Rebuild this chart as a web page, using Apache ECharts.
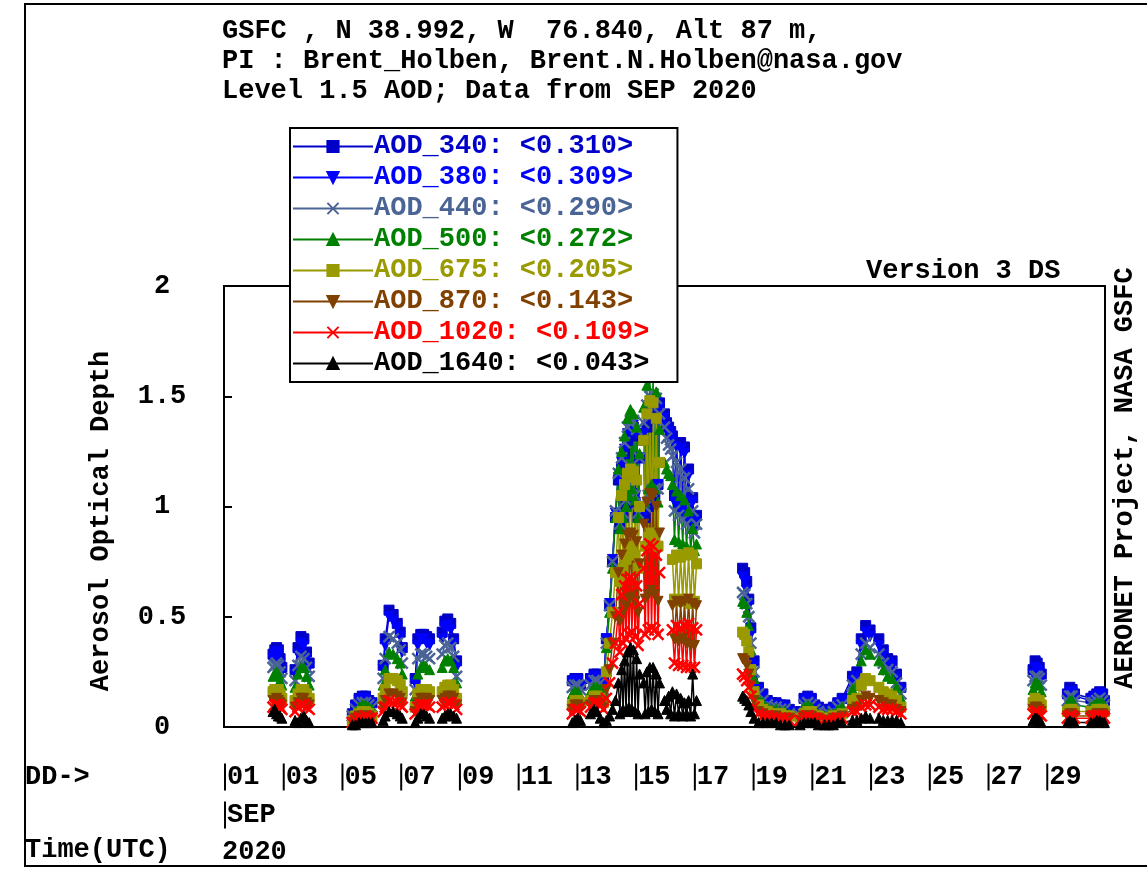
<!DOCTYPE html>
<html><head><meta charset="utf-8">
<script src="https://cdn.jsdelivr.net/npm/echarts/dist/echarts.min.js"></script>
<style>html,body{margin:0;padding:0;background:#fff}#c{width:1147px;height:869px}</style>
</head><body><div id="c"></div>
<script>
const FONT = '"Liberation Mono", "DejaVu Sans Mono", monospace';
const FS = 27;

const seriesNames = ['AOD_340','AOD_380','AOD_440','AOD_500','AOD_675','AOD_870','AOD_1020','AOD_1640'];
const legendMeans = ['0.310','0.309','0.290','0.272','0.205','0.143','0.109','0.043'];
const seriesColors = ['#0000c8','#0000ff','#4a6496','#008000','#999900','#804000','#ff0000','#000000'];
const titleLines = ['GSFC , N 38.992, W  76.840, Alt 87 m,','PI : Brent_Holben, Brent.N.Holben@nasa.gov','Level 1.5 AOD; Data from SEP 2020'];
const yTicks = [0, 0.5, 1, 1.5, 2];
const dayTickLabels = ['01','03','05','07','09','11','13','15','17','19','21','23','25','27','29'];

// days since 2020-09-01 00:00 UTC; null = break in the lines
const dayOffsets = [
 1.67,1.73,1.79,1.85,1.91,1.97, null,
 2.42,2.52,2.62,2.72,2.81,2.90, null,
 4.37,4.48,4.60,4.71,4.82,4.93,5.04, null,
 5.42,5.49,5.62,5.76,5.90,6.00,6.07, null,
 6.51,6.60,6.70,6.80,6.90,7.00, null,
 7.43,7.52,7.62,7.72,7.82,7.92, null,
 11.86,11.95,12.05,12.14, null,
 12.48,12.60,12.70,12.81,12.92,
 13.02,13.13,13.23,13.33,
 13.43,13.48,13.54,13.59,13.64,13.69,13.74,13.79,13.84,13.89,13.94,14.00,14.05,14.10,14.15, null,
 14.29,14.34,14.40,14.45,14.50,14.56,14.61,14.67,14.72,14.78,14.83, null,
 15.00,15.07,15.14,15.21,15.27,15.34,15.41,15.48,15.55,15.62,15.68,15.75,15.82,15.89,15.96,16.02,16.09, null,
 17.66,17.73,17.80,17.87,17.94,18.05,18.20,18.35,18.50,18.65,18.80,18.95,19.10,19.25,
 19.62,19.75,19.88,20.00,20.12,20.24,
 20.45,20.60,20.75,20.90,21.05,
 21.40,21.55,21.70,21.85,22.00, null,
 22.30,22.45,22.60,22.75,22.90,23.05, null,
 27.55,27.62,27.69,27.76,27.83, null,
 28.72,28.80,28.88,28.96,29.52,29.62,29.72,29.82,29.92,29.98
];

const aod340 = [
 0.33,0.35,0.36,0.35,0.31,0.27, null,
 0.26,0.36,0.41,0.40,0.34,0.29, null,
 0.06,0.10,0.13,0.14,0.14,0.12,0.11, null,
 0.28,0.40,0.53,0.51,0.47,0.43,0.36, null,
 0.22,0.40,0.42,0.42,0.41,0.40, null,
 0.43,0.48,0.49,0.47,0.40,0.30, null,
 0.21,0.22,0.22,0.19, null,
 0.22,0.24,0.24,0.23,0.20,
 0.40,0.55,0.75,0.95,
 1.12,0.90,1.18,0.95,1.24,1.00,1.30,1.05,1.34,1.06,1.36,1.02,1.32,0.95,1.22, null,
 1.30,0.95,1.36,1.00,1.40,1.02,1.42,1.04,1.46,1.10,1.47, null,
 1.42,1.38,1.36,1.34,1.32,1.05,1.29,1.02,1.29,1.00,1.27,0.98,1.17,0.95,1.04,0.92,0.96, null,
 0.72,0.70,0.66,0.58,0.45,0.30,0.18,0.15,0.12,0.11,0.11,0.10,0.10,0.08,
 0.07,0.13,0.14,0.13,0.10,0.09,
 0.08,0.08,0.09,0.11,0.13,
 0.23,0.25,0.40,0.46,0.44, null,
 0.40,0.35,0.31,0.30,0.24,0.18, null,
 0.26,0.30,0.29,0.27,0.24, null,
 0.15,0.18,0.17,0.15,0.13,0.14,0.15,0.16,0.15,0.12
];
const aod380 = [
 0.31,0.33,0.34,0.33,0.29,0.25, null,
 0.24,0.33,0.38,0.37,0.31,0.27, null,
 0.05,0.09,0.12,0.13,0.13,0.11,0.10, null,
 0.26,0.37,0.50,0.48,0.45,0.41,0.34, null,
 0.20,0.37,0.40,0.40,0.38,0.37, null,
 0.40,0.45,0.46,0.44,0.38,0.27, null,
 0.20,0.21,0.21,0.18, null,
 0.21,0.23,0.23,0.22,0.19,
 0.40,0.56,0.76,0.97,
 1.13,0.92,1.20,0.96,1.26,1.02,1.33,1.06,1.36,1.08,1.37,1.04,1.33,0.96,1.22, null,
 1.33,0.98,1.40,1.02,1.44,1.04,1.45,1.06,1.47,1.10,1.45, null,
 1.40,1.36,1.34,1.32,1.30,1.02,1.27,1.00,1.26,0.98,1.24,0.96,1.14,0.93,1.02,0.90,0.94, null,
 0.68,0.66,0.62,0.55,0.42,0.28,0.17,0.14,0.11,0.10,0.10,0.09,0.09,0.07,
 0.06,0.12,0.13,0.12,0.09,0.08,
 0.07,0.07,0.08,0.10,0.12,
 0.21,0.23,0.37,0.43,0.41, null,
 0.37,0.33,0.29,0.28,0.22,0.17, null,
 0.24,0.27,0.26,0.25,0.22, null,
 0.14,0.16,0.16,0.14,0.12,0.13,0.14,0.15,0.14,0.11
];
const aod440 = [
 0.27,0.28,0.29,0.28,0.25,0.22, null,
 0.21,0.28,0.32,0.31,0.27,0.23, null,
 0.05,0.08,0.10,0.11,0.11,0.10,0.09, null,
 0.22,0.31,0.41,0.40,0.38,0.35,0.29, null,
 0.17,0.31,0.33,0.33,0.32,0.31, null,
 0.33,0.37,0.38,0.36,0.32,0.23, null,
 0.18,0.19,0.19,0.17, null,
 0.19,0.21,0.21,0.20,0.17,
 0.38,0.55,0.75,0.98,
 1.15,0.92,1.22,0.97,1.29,1.03,1.36,1.07,1.39,1.09,1.39,1.05,1.35,0.97,1.22, null,
 1.38,1.00,1.46,1.05,1.50,1.07,1.51,1.08,1.49,1.08,1.42, null,
 1.36,1.31,1.28,1.26,1.23,0.98,1.20,0.96,1.17,0.94,1.13,0.92,1.08,0.90,0.98,0.88,0.92, null,
 0.61,0.60,0.56,0.50,0.38,0.25,0.15,0.12,0.10,0.09,0.09,0.08,0.08,0.06,
 0.05,0.10,0.11,0.10,0.08,0.07,
 0.06,0.06,0.07,0.09,0.10,
 0.19,0.21,0.33,0.38,0.36, null,
 0.33,0.29,0.26,0.25,0.20,0.15, null,
 0.21,0.23,0.23,0.22,0.19, null,
 0.12,0.14,0.14,0.12,0.11,0.11,0.12,0.13,0.12,0.10
];
const aod500 = [
 0.23,0.24,0.25,0.24,0.21,0.19, null,
 0.18,0.24,0.27,0.27,0.23,0.19, null,
 0.04,0.07,0.09,0.10,0.10,0.09,0.08, null,
 0.19,0.26,0.34,0.33,0.31,0.29,0.24, null,
 0.14,0.24,0.27,0.28,0.27,0.26, null,
 0.27,0.30,0.31,0.30,0.27,0.20, null,
 0.15,0.16,0.16,0.14, null,
 0.16,0.18,0.18,0.17,0.15,
 0.36,0.52,0.72,0.95,
 1.17,0.90,1.25,0.95,1.32,1.00,1.40,1.05,1.44,1.08,1.42,1.03,1.36,0.95,1.24, null,
 1.45,1.02,1.55,1.08,1.60,1.10,1.59,1.08,1.52,1.02,1.35, null,
 1.20,1.17,1.15,1.14,1.10,0.85,1.07,0.84,1.05,0.83,1.03,0.82,0.98,0.80,0.90,0.80,0.83, null,
 0.57,0.56,0.52,0.46,0.35,0.22,0.13,0.11,0.09,0.08,0.08,0.07,0.07,0.06,
 0.05,0.09,0.10,0.09,0.07,0.06,
 0.05,0.06,0.06,0.08,0.09,
 0.17,0.19,0.30,0.35,0.33, null,
 0.30,0.26,0.23,0.22,0.18,0.13, null,
 0.17,0.20,0.20,0.19,0.16, null,
 0.10,0.12,0.12,0.10,0.09,0.10,0.11,0.11,0.11,0.09
];
const aod675 = [
 0.16,0.17,0.17,0.17,0.15,0.13, null,
 0.12,0.15,0.17,0.17,0.15,0.13, null,
 0.03,0.05,0.06,0.07,0.07,0.06,0.05, null,
 0.13,0.17,0.22,0.22,0.21,0.19,0.16, null,
 0.09,0.15,0.17,0.17,0.17,0.16, null,
 0.16,0.18,0.19,0.19,0.17,0.13, null,
 0.10,0.12,0.12,0.11, null,
 0.12,0.14,0.14,0.13,0.11,
 0.25,0.38,0.52,0.70,
 0.95,0.66,1.05,0.72,1.10,0.76,1.15,0.80,1.17,0.82,1.16,0.78,1.12,0.72,1.00, null,
 1.30,0.82,1.42,0.86,1.48,0.88,1.47,0.86,1.40,0.82,1.20, null,
 null,null,null,null,0.76,0.58,0.78,0.57,0.77,0.58,0.78,0.57,0.79,0.56,0.78,0.57,0.74, null,
 0.43,0.42,0.39,0.34,0.26,0.16,0.10,0.08,0.07,0.06,0.06,0.06,0.05,0.05,
 0.04,0.06,0.07,0.07,0.05,0.05,
 0.04,0.04,0.05,0.05,0.06,
 0.12,0.13,0.19,0.22,0.21, null,
 0.18,0.16,0.15,0.14,0.12,0.09, null,
 0.11,0.13,0.12,0.12,0.10, null,
 0.07,0.08,0.08,0.07,0.07,0.07,0.08,0.08,0.08,0.07
];
const aod870 = [
 0.12,0.12,0.13,0.12,0.11,0.10, null,
 0.09,0.11,0.13,0.13,0.11,0.10, null,
 0.02,0.04,0.05,0.05,0.05,0.05,0.04, null,
 0.09,0.12,0.15,0.15,0.14,0.13,0.11, null,
 0.07,0.11,0.13,0.13,0.13,0.12, null,
 0.12,0.13,0.14,0.14,0.13,0.10, null,
 0.08,0.10,0.10,0.09, null,
 0.10,0.12,0.12,0.11,0.09,
 0.17,0.26,0.38,0.50,
 0.70,0.48,0.78,0.52,0.83,0.55,0.87,0.58,0.88,0.60,0.87,0.57,0.84,0.52,0.74, null,
 0.92,0.58,1.02,0.60,1.06,0.62,1.05,0.60,1.00,0.57,0.88, null,
 null,null,null,null,0.55,0.40,0.57,0.39,0.56,0.40,0.57,0.38,0.58,0.37,0.56,0.37,0.55, null,
 0.31,0.30,0.28,0.24,0.19,0.12,0.07,0.06,0.05,0.05,0.05,0.04,0.04,0.04,
 0.03,0.05,0.05,0.05,0.04,0.04,
 0.03,0.03,0.04,0.04,0.05,
 0.08,0.09,0.12,0.14,0.13, null,
 0.12,0.11,0.10,0.10,0.08,0.07, null,
 0.08,0.09,0.09,0.08,0.07, null,
 0.05,0.06,0.06,0.05,0.05,0.05,0.06,0.06,0.06,0.05
];
const aod1020 = [
 0.09,0.10,0.10,0.10,0.09,0.08, null,
 0.07,0.09,0.10,0.10,0.09,0.08, null,
 0.02,0.03,0.04,0.04,0.05,0.04,0.04, null,
 0.07,0.09,0.12,0.11,0.11,0.10,0.09, null,
 0.06,0.09,0.10,0.10,0.10,0.09, null,
 0.09,0.10,0.11,0.11,0.10,0.08, null,
 0.06,0.08,0.08,0.07, null,
 0.09,0.11,0.11,0.10,0.08,
 0.13,0.20,0.29,0.38,
 0.52,0.34,0.60,0.38,0.64,0.40,0.67,0.42,0.68,0.43,0.67,0.41,0.64,0.37,0.56, null,
 0.72,0.42,0.80,0.44,0.83,0.45,0.82,0.44,0.78,0.42,0.70, null,
 null,null,null,null,0.44,0.29,0.46,0.28,0.45,0.28,0.46,0.27,0.47,0.27,0.45,0.27,0.44, null,
 0.24,0.23,0.21,0.18,0.14,0.09,0.06,0.05,0.05,0.04,0.04,0.04,0.04,0.03,
 0.03,0.04,0.05,0.04,0.04,0.03,
 0.03,0.03,0.03,0.04,0.04,
 0.07,0.07,0.09,0.10,0.10, null,
 0.09,0.08,0.08,0.08,0.07,0.06, null,
 0.06,0.07,0.07,0.06,0.05, null,
 0.04,0.05,0.05,0.04,0.04,0.05,0.05,0.05,0.05,0.04
];
const aod1640 = [
 0.07,0.08,0.06,0.05,0.05,0.04, null,
 0.03,0.02,0.04,0.05,0.03,0.02, null,
 0.01,0.01,0.02,0.02,0.02,0.02,0.02, null,
 0.03,0.05,0.07,0.07,0.06,0.05,0.04, null,
 0.02,0.04,0.06,0.06,0.05,0.04, null,
 0.04,0.05,0.06,0.06,0.05,0.04, null,
 0.02,0.03,0.04,0.03, null,
 0.06,0.08,0.07,0.04,0.02,
 0.03,0.05,0.08,0.12,
 0.20,0.06,0.26,0.08,0.30,0.07,0.34,0.09,0.36,0.08,0.35,0.07,0.31,0.06,0.24, null,
 0.20,0.06,0.25,0.07,0.27,0.08,0.27,0.07,0.24,0.06,0.20, null,
 0.12,0.08,0.14,0.06,0.16,0.05,0.15,0.06,0.13,0.05,0.11,0.06,0.12,0.05,0.24,0.06,0.12, null,
 0.14,0.13,0.12,0.10,0.07,0.04,0.02,0.02,0.02,0.02,0.02,0.01,0.01,0.01,
 0.01,0.02,0.02,0.02,0.02,0.01,
 0.01,0.01,0.01,0.02,0.02,
 0.03,0.03,0.04,0.05,0.04, null,
 0.04,0.03,0.03,0.03,0.03,0.02, null,
 0.03,0.04,0.04,0.03,0.02, null,
 0.02,0.03,0.02,0.02,0.02,0.02,0.03,0.03,0.02,0.02
];

const seriesValues = [aod340, aod380, aod440, aod500, aod675, aod870, aod1020, aod1640];
const X_PATH = 'path://M0,0L10,10M10,0L0,10';
const seriesSymbols = ['rect','triangle',X_PATH,'triangle','rect','triangle',X_PATH,'triangle'];
const seriesRotate = [0,180,0,0,0,180,0,0];

const chart = echarts.init(document.getElementById('c'));

function pts(vals){
  return dayOffsets.map((t,i)=> (t===null || vals[i]===null) ? ['-','-'] : [t, vals[i]]);
}

const series = seriesNames.map((n,i)=>{
  const isX = seriesSymbols[i] === X_PATH;
  return {
    name: n, type: 'line', data: pts(seriesValues[i]),
    symbol: seriesSymbols[i], symbolSize: isX ? 11 : 10, symbolRotate: seriesRotate[i],
    showSymbol: true, showAllSymbol: true, connectNulls: false,
    lineStyle: {color: seriesColors[i], width: 1.5},
    itemStyle: {color: isX ? 'rgba(0,0,0,0)' : seriesColors[i], borderColor: seriesColors[i], borderWidth: isX ? 2.5 : 1},
    emphasis: {disabled: true}, animation: false
  };
});

const tx = (text, x, y, extra) => Object.assign({
  type: 'text', x: x, y: y,
  style: Object.assign({text: text, font: 'bold ' + FS + 'px ' + FONT, fill: '#000', textAlign: 'left', textVerticalAlign: 'middle'}, extra || {})
});

chart.setOption({
  animation: false,
  backgroundColor: '#fff',
  title: {
    text: titleLines.join('\n'), left: 222, top: 16, padding: 0,
    textStyle: {fontFamily: FONT, fontWeight: 'bold', fontSize: FS, lineHeight: 30, color: '#000'}
  },
  grid: {left: 224, right: 42, top: 286, bottom: 142, show: true, borderColor: '#000', borderWidth: 2, backgroundColor: 'transparent'},
  legend: {
    orient: 'vertical', left: 290, top: 128,
    padding: [3, 28, 3, 2], itemGap: 0, itemWidth: 80, itemHeight: 14,
    backgroundColor: '#fff', borderColor: '#000', borderWidth: 2,
    data: seriesNames.map((n,i)=>({name: n, textStyle: {color: seriesColors[i]}})),
    formatter: (name)=> name + ': <' + legendMeans[seriesNames.indexOf(name)] + '>',
    textStyle: {fontFamily: FONT, fontWeight: 'bold', fontSize: FS, lineHeight: 31, padding: [0,0,0,-4]},
    selectedMode: false, z: 10
  },
  xAxis: {
    type: 'value', min: 0, max: 30, interval: 2,
    axisLine: {show: true, lineStyle: {color: '#000', width: 2}},
    axisTick: {show: false}, splitLine: {show: false},
    axisLabel: {
      show: true, margin: 31, align: 'left',
      formatter: (v)=>{
        const k = Math.round(v/2);
        if (k >= dayTickLabels.length) return '';
        let s = '{b|}{t|' + dayTickLabels[k] + '}';
        if (k === 0) s += '\n{b|}{t|SEP}';
        return s;
      },
      rich: {
        b: {width: 2, height: 27, backgroundColor: '#000', lineHeight: 38},
        t: {fontFamily: FONT, fontWeight: 'bold', fontSize: FS, color: '#000', lineHeight: 38, padding: [0,0,0,1]}
      }
    }
  },
  yAxis: {
    type: 'value', min: 0, max: 2, interval: 0.5,
    axisLine: {show: true, lineStyle: {color: '#000', width: 2}},
    axisTick: {show: true, inside: true, length: 8, lineStyle: {color: '#000', width: 2}},
    splitLine: {show: false},
    axisLabel: {margin: 62, align: 'center', fontFamily: FONT, fontWeight: 'bold', fontSize: FS, color: '#000'}
  },
  graphic: [
    {type: 'rect', shape: {x: 25, y: 4, width: 1140, height: 862}, style: {fill: 'none', stroke: '#000', lineWidth: 2}, silent: true},
    tx('Aerosol Optical Depth', 101, 521, {textAlign: 'center'}),
    tx('Version 3 DS', 866, 271),
    tx('AERONET Project, NASA GSFC', 1125, 478, {textAlign: 'center'}),
    tx('DD->', 25, 777),
    tx('Time(UTC)', 25, 850),
    tx('2020', 222, 852)
  ].map((g, i)=>{
    if (i === 1 || i === 3) g.rotation = Math.PI/2;
    return g;
  }),
  series: series
});
</script>
</body></html>
